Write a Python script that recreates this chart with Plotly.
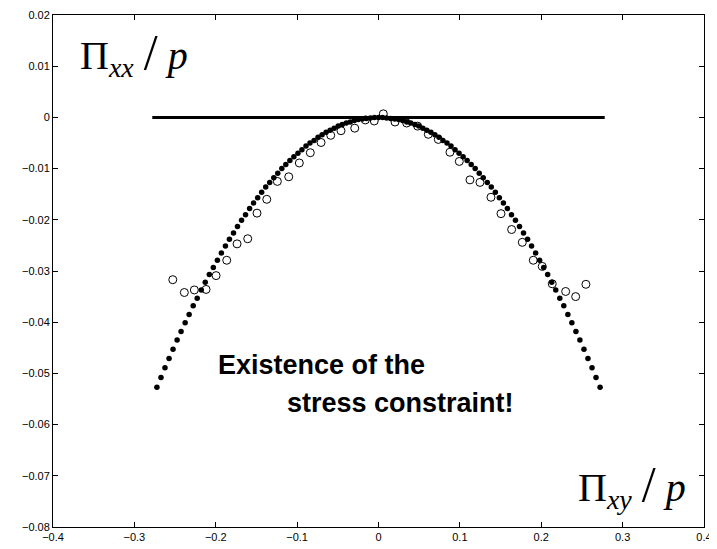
import plotly.graph_objects as go

# Filled dots (model curve)
fit_x = [-0.2723, -0.2673, -0.2624, -0.2574, -0.2525, -0.2475, -0.2426, -0.2376, -0.2327, -0.2277,
         -0.2228, -0.2178, -0.2129, -0.2079, -0.2030, -0.1980, -0.1931, -0.1881, -0.1832, -0.1782,
         -0.1733, -0.1683, -0.1634, -0.1584, -0.1535, -0.1485, -0.1436, -0.1386, -0.1337, -0.1287,
         -0.1238, -0.1188, -0.1139, -0.1089, -0.1040, -0.0990, -0.0941, -0.0891, -0.0842, -0.0792,
         -0.0743, -0.0693, -0.0644, -0.0594, -0.0545, -0.0495, -0.0446, -0.0396, -0.0347, -0.0297,
         -0.0248, -0.0198, -0.0149, -0.0099, -0.0050, 0.0,
         0.0050, 0.0099, 0.0149, 0.0198, 0.0248, 0.0297, 0.0347, 0.0396, 0.0446, 0.0495,
         0.0545, 0.0594, 0.0644, 0.0693, 0.0743, 0.0792, 0.0842, 0.0891, 0.0941, 0.0990,
         0.1040, 0.1089, 0.1139, 0.1188, 0.1238, 0.1287, 0.1337, 0.1386, 0.1436, 0.1485,
         0.1535, 0.1584, 0.1634, 0.1683, 0.1733, 0.1782, 0.1832, 0.1881, 0.1931, 0.1980,
         0.2030, 0.2079, 0.2129, 0.2178, 0.2228, 0.2277, 0.2327, 0.2376, 0.2426, 0.2475,
         0.2525, 0.2574, 0.2624, 0.2673, 0.2723]
fit_y = [-0.0527, -0.0508, -0.0489, -0.0471, -0.0453, -0.0435, -0.0418, -0.0401, -0.0385, -0.0368,
         -0.0353, -0.0337, -0.0322, -0.0307, -0.0293, -0.0279, -0.0265, -0.0251, -0.0238, -0.0226,
         -0.0213, -0.0201, -0.0190, -0.0178, -0.0167, -0.0157, -0.0146, -0.0136, -0.0127, -0.0118,
         -0.0109, -0.0100, -0.0092, -0.0084, -0.0077, -0.0070, -0.0063, -0.0056, -0.0050, -0.0045,
         -0.0039, -0.0034, -0.0029, -0.0025, -0.0021, -0.0017, -0.0014, -0.0011, -0.0009, -0.0006,
         -0.0004, -0.0003, -0.0002, -0.0001, -0.0000, 0.0,
         -0.0000, -0.0001, -0.0002, -0.0003, -0.0004, -0.0006, -0.0009, -0.0011, -0.0014, -0.0017,
         -0.0021, -0.0025, -0.0029, -0.0034, -0.0039, -0.0045, -0.0050, -0.0056, -0.0063, -0.0070,
         -0.0077, -0.0084, -0.0092, -0.0100, -0.0109, -0.0118, -0.0127, -0.0136, -0.0146, -0.0157,
         -0.0167, -0.0178, -0.0190, -0.0201, -0.0213, -0.0226, -0.0238, -0.0251, -0.0265, -0.0279,
         -0.0293, -0.0307, -0.0322, -0.0337, -0.0353, -0.0368, -0.0385, -0.0401, -0.0418, -0.0435,
         -0.0453, -0.0471, -0.0489, -0.0508, -0.0527]

# Open circles (simulation data)
sim_x = [-0.2528, -0.2386, -0.2263, -0.2119, -0.1996, -0.1865, -0.1738, -0.1607, -0.1493, -0.1373,
         -0.1243, -0.1103, -0.0973, -0.0838, -0.0706, -0.0587, -0.0461, -0.0292, -0.0162, -0.0052,
         0.0059, 0.0203, 0.0346, 0.0481, 0.0612, 0.0735, 0.0878, 0.0993, 0.1124, 0.1247,
         0.1382, 0.1505, 0.1636, 0.1767, 0.1902, 0.2012, 0.2135, 0.2300, 0.2423, 0.2549]
sim_y = [-0.0317, -0.0342, -0.0337, -0.0336, -0.0309, -0.0279, -0.0247, -0.0237, -0.0187, -0.0160,
         -0.0125, -0.0116, -0.0089, -0.0069, -0.0049, -0.0035, -0.0026, -0.0021, -0.0005, -0.0007,
         0.0007, -0.0009, -0.0011, -0.0017, -0.0033, -0.0043, -0.0068, -0.0086, -0.0122, -0.0127,
         -0.0156, -0.0188, -0.0219, -0.0244, -0.0279, -0.0291, -0.0325, -0.0340, -0.0350, -0.0326]

# Zero-stress reference line
line_x = [-0.278, 0.278]
line_y = [0.0, 0.0]

x_ticks = [-0.4, -0.3, -0.2, -0.1, 0, 0.1, 0.2, 0.3, 0.4]
y_ticks = [0.02, 0.01, 0, -0.01, -0.02, -0.03, -0.04, -0.05, -0.06, -0.07, -0.08]

fig = go.Figure()
fig.add_trace(go.Scatter(x=line_x, y=line_y, mode="lines",
                         line=dict(color="black", width=3), showlegend=False))
fig.add_trace(go.Scatter(x=fit_x, y=fit_y, mode="markers",
                         marker=dict(color="black", size=5.5, line=dict(width=0)),
                         showlegend=False))
fig.add_trace(go.Scatter(x=sim_x, y=sim_y, mode="markers",
                         marker=dict(symbol="circle-open", color="black", size=8,
                                     line=dict(width=1, color="black")),
                         showlegend=False))

serif = "Liberation Serif, Times New Roman, serif"
fig.add_annotation(x=-0.369, y=0.0124, xref="x", yref="y", xanchor="left", yanchor="middle",
                   showarrow=False,
                   text="Π<sub><i>xx</i></sub> <span style='font-size:50px'>/</span> <i>p</i>",
                   font=dict(family=serif, size=40, color="black"))
fig.add_annotation(x=0.2426, y=-0.0718, xref="x", yref="y", xanchor="left", yanchor="middle",
                   showarrow=False,
                   text="Π<sub><i>xy</i></sub> <span style='font-size:50px'>/</span> <i>p</i>",
                   font=dict(family=serif, size=40, color="black"))

sans = "Liberation Sans, Arial, sans-serif"
fig.add_annotation(x=-0.2, y=-0.0483, xref="x", yref="y", xanchor="left", yanchor="middle",
                   showarrow=False, text="<b>Existence of the</b>",
                   font=dict(family=sans, size=27, color="black"))
fig.add_annotation(x=-0.1148, y=-0.0557, xref="x", yref="y", xanchor="left", yanchor="middle",
                   showarrow=False, text="<b>stress constraint!</b>",
                   font=dict(family=sans, size=27, color="black"))

axis_common = dict(showgrid=False, zeroline=False, showline=True, linecolor="black", linewidth=1,
                   mirror="ticks", ticks="inside", ticklen=5, tickcolor="black", tickwidth=1,
                   automargin=False,
                   tickfont=dict(family=sans, size=11, color="black"))
fig.update_xaxes(range=[-0.4, 0.4], tickvals=x_ticks, **axis_common)
fig.update_yaxes(range=[-0.08, 0.02], tickvals=y_ticks, **axis_common)

# page body has an 8px default margin, so the figure is sized to fit inside the window
fig.update_layout(width=709, height=541, margin=dict(l=45, r=13, t=7, b=22),
                  plot_bgcolor="white", paper_bgcolor="white")

fig.write_html("out.html")
